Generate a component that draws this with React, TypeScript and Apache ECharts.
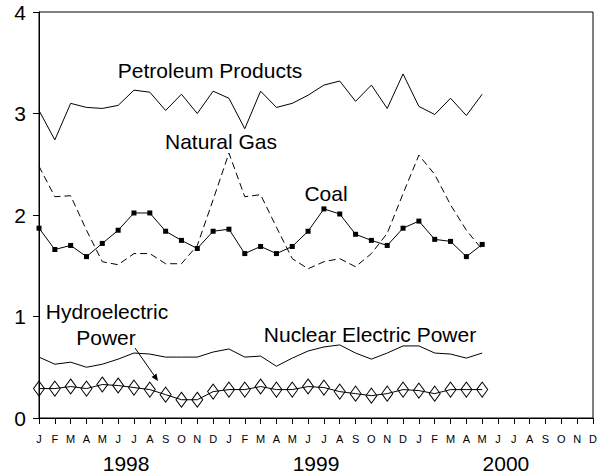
import React, { useEffect, useRef } from 'react';
import * as echarts from 'echarts';

const monthNames = ['Jan', 'Feb', 'Mar', 'Apr', 'May', 'Jun', 'Jul', 'Aug', 'Sep', 'Oct', 'Nov', 'Dec'];
const years = ['1998', '1999', '2000'];
const categories = years.flatMap((y) => monthNames.map((m) => `${m} ${y}`));

// Jan 1998 .. May 2000
const petroleum = [3.03, 2.74, 3.1, 3.06, 3.05, 3.08, 3.23, 3.21, 3.03, 3.19, 3.0, 3.22, 3.15, 2.85, 3.22, 3.06, 3.1, 3.18, 3.28, 3.32, 3.12, 3.28, 3.05, 3.39, 3.07, 2.99, 3.15, 2.98, 3.19];
const naturalGas = [2.48, 2.18, 2.19, 1.85, 1.54, 1.51, 1.62, 1.62, 1.52, 1.52, 1.7, 2.15, 2.61, 2.18, 2.2, 1.88, 1.57, 1.47, 1.54, 1.57, 1.49, 1.62, 1.82, 2.21, 2.59, 2.4, 2.1, 1.85, 1.66];
const coal = [1.87, 1.66, 1.7, 1.59, 1.72, 1.85, 2.02, 2.02, 1.84, 1.75, 1.67, 1.84, 1.86, 1.62, 1.69, 1.62, 1.69, 1.84, 2.06, 2.01, 1.81, 1.75, 1.7, 1.87, 1.94, 1.76, 1.74, 1.59, 1.71];
const nuclear = [0.6, 0.53, 0.55, 0.5, 0.53, 0.58, 0.64, 0.63, 0.6, 0.6, 0.6, 0.65, 0.68, 0.6, 0.61, 0.51, 0.59, 0.66, 0.7, 0.72, 0.64, 0.58, 0.64, 0.71, 0.71, 0.64, 0.63, 0.59, 0.64];
const hydro = [0.29, 0.29, 0.31, 0.29, 0.33, 0.32, 0.3, 0.28, 0.23, 0.18, 0.18, 0.26, 0.28, 0.28, 0.31, 0.28, 0.28, 0.31, 0.3, 0.26, 0.24, 0.22, 0.24, 0.28, 0.27, 0.24, 0.28, 0.28, 0.28];

const FONT = '"Liberation Sans", Arial, Helvetica, sans-serif';

export default function App() {
  const ref = useRef<HTMLDivElement>(null);
  useEffect(() => {
    if (!ref.current) return;
    const chart = echarts.init(ref.current, undefined, { renderer: 'svg' });
    const black = '#000';
    const lineBase = { type: 'line', showSymbol: true, silent: true, z: 2 };
    chart.setOption({
      animation: false,
      backgroundColor: '#fff',
      textStyle: { fontFamily: FONT, color: black },
      grid: { left: 39, right: 15, top: 12, bottom: 58, show: true, borderColor: black, borderWidth: 1 },
      xAxis: {
        type: 'category',
        data: categories,
        boundaryGap: false,
        axisLine: { show: true, lineStyle: { color: black, width: 1 } },
        axisTick: { show: true, interval: 0, length: 6, lineStyle: { color: black, width: 1 } },
        axisLabel: {
          interval: 0,
          formatter: (v: string) => v.charAt(0),
          fontSize: 11,
          color: black,
          fontFamily: FONT,
          margin: 15,
        },
        splitLine: { show: false },
      },
      yAxis: {
        type: 'value',
        min: 0,
        max: 4,
        interval: 1,
        axisLine: { show: true, lineStyle: { color: black, width: 1 } },
        axisTick: { show: true, length: 6, lineStyle: { color: black, width: 1 } },
        axisLabel: { fontSize: 21, color: black, fontFamily: FONT, margin: 13 },
        splitLine: { show: false },
      },
      series: [
        { ...lineBase, name: 'Petroleum Products', data: petroleum, symbol: 'none', lineStyle: { color: black, width: 1 } },
        { ...lineBase, name: 'Natural Gas', data: naturalGas, symbol: 'none', lineStyle: { color: black, width: 1, type: [7, 4] } },
        {
          ...lineBase,
          name: 'Coal',
          data: coal,
          symbol: 'rect',
          symbolSize: 5,
          itemStyle: { color: black },
          lineStyle: { color: black, width: 1 },
        },
        { ...lineBase, name: 'Nuclear Electric Power', data: nuclear, symbol: 'none', lineStyle: { color: black, width: 1 } },
        {
          ...lineBase,
          name: 'Hydroelectric Power',
          data: hydro,
          symbol: 'diamond',
          symbolSize: [11, 15],
          itemStyle: { color: 'rgba(0,0,0,0)', borderColor: black, borderWidth: 1 },
          lineStyle: { color: black, width: 1 },
        },
      ],
    });

    const yearY = 463;
    const yearGraphics = years.map((y) => {
      const a = chart.convertToPixel({ xAxisIndex: 0 }, `Jun ${y}`) as number;
      const b = chart.convertToPixel({ xAxisIndex: 0 }, `Jul ${y}`) as number;
      return {
        type: 'text',
        x: (a + b) / 2,
        y: yearY,
        silent: true,
        style: { text: y, fill: black, fontSize: 21, fontFamily: FONT, align: 'center', verticalAlign: 'middle' },
      };
    });

    const label = (text: string, x: number, y: number) => ({
      type: 'text',
      x,
      y,
      silent: true,
      z: 10,
      style: { text, fill: black, fontSize: 21, fontFamily: FONT, align: 'center', verticalAlign: 'middle' },
    });

    // arrow from "Power" to hydro series
    const tip = [158, 381];
    const start = [135, 348];
    const dx = tip[0] - start[0];
    const dy = tip[1] - start[1];
    const len = Math.sqrt(dx * dx + dy * dy);
    const ux = dx / len;
    const uy = dy / len;
    const bx = tip[0] - 7 * ux;
    const by = tip[1] - 7 * uy;
    const nx = -uy;
    const ny = ux;

    chart.setOption({
      graphic: [
        ...yearGraphics,
        label('Petroleum Products', 210, 70),
        label('Natural Gas', 221, 141),
        label('Coal', 326, 193),
        label('Hydroelectric', 107, 311),
        label('Power', 106, 337),
        label('Nuclear Electric Power', 370, 334),
        {
          type: 'line',
          silent: true,
          shape: { x1: start[0], y1: start[1], x2: bx, y2: by },
          style: { stroke: black, lineWidth: 1 },
        },
        {
          type: 'polygon',
          silent: true,
          shape: {
            points: [
              [tip[0], tip[1]],
              [bx + 3 * nx, by + 3 * ny],
              [bx - 3 * nx, by - 3 * ny],
            ],
          },
          style: { fill: black },
        },
      ],
    });

    return () => chart.dispose();
  }, []);
  return <div ref={ref} style={{ position: 'absolute', left: 0, top: 0, width: 608, height: 476 }} />;
}
